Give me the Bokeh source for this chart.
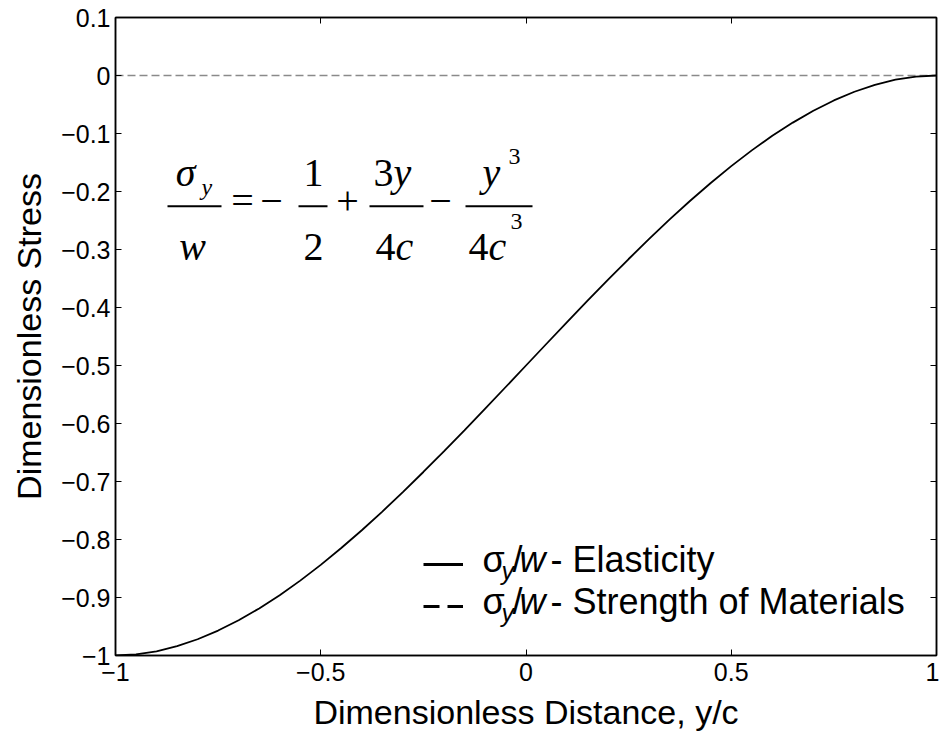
from bokeh.plotting import figure
from bokeh.models import (Range1d, Label, BoxAnnotation, Legend, LegendItem,
                          LinearAxis, FixedTicker)
from bokeh.embed import file_html
from bokeh.resources import INLINE

# ---------------- data ----------------
y_distance = [-1.0, -0.95, -0.9, -0.85, -0.8, -0.75, -0.7, -0.65, -0.6, -0.55,
              -0.5, -0.45, -0.4, -0.35, -0.3, -0.25, -0.2, -0.15, -0.1, -0.05,
              0.0, 0.05, 0.1, 0.15, 0.2, 0.25, 0.3, 0.35, 0.4, 0.45,
              0.5, 0.55, 0.6, 0.65, 0.7, 0.75, 0.8, 0.85, 0.9, 0.95, 1.0]
stress_elasticity = [-1.0, -0.9982, -0.9928, -0.9840, -0.9720, -0.9570, -0.9393,
                     -0.9188, -0.8960, -0.8709, -0.8438, -0.8147, -0.7840, -0.7518,
                     -0.7183, -0.6836, -0.6480, -0.6117, -0.5748, -0.5375, -0.5,
                     -0.4625, -0.4252, -0.3883, -0.3520, -0.3164, -0.2818, -0.2482,
                     -0.2160, -0.1853, -0.1563, -0.1291, -0.1040, -0.0812, -0.0608,
                     -0.0430, -0.0280, -0.0160, -0.0073, -0.0018, 0.0]
som_distance = [-1.0, 1.0]
stress_som = [0.0, 0.0]

x_ticks = [-1, -0.5, 0, 0.5, 1]
x_tick_labels = ["\u22121", "\u22120.5", "0", "0.5", "1"]
y_ticks = [0.1, 0, -0.1, -0.2, -0.3, -0.4, -0.5, -0.6, -0.7, -0.8, -0.9, -1]
y_tick_labels = ["0.1", "0", "\u22120.1", "\u22120.2", "\u22120.3", "\u22120.4",
                 "\u22120.5", "\u22120.6", "\u22120.7", "\u22120.8", "\u22120.9", "\u22121"]

x_label = "Dimensionless Distance, y/c"
y_label = "Dimensionless Stress"

# ---------------- layout ----------------
W, H = 939, 733
L, R, T, B = 115, 936, 17, 656
X0, X1, Y0, Y1 = -1.0, 1.0, -1.0, 0.1

SANS = "Liberation Sans"
SERIF = "Liberation Serif"

p = figure(width=W, height=H, x_range=Range1d(X0, X1), y_range=Range1d(Y0, Y1),
           output_backend="svg", toolbar_location=None,
           min_border_left=L, min_border_right=W - R,
           min_border_top=T, min_border_bottom=H - B)
p.xgrid.visible = False
p.ygrid.visible = False
p.outline_line_color = "black"
p.outline_line_width = 1.5
p.background_fill_color = "white"
p.border_fill_color = "white"

def style_axis(ax, ticks, labels, show_labels=True):
    ax.ticker = FixedTicker(ticks=ticks)
    ax.major_label_overrides = {t: s for t, s in zip(ticks, labels)}
    ax.major_tick_in = 6
    ax.major_tick_out = 0
    ax.minor_tick_in = 0
    ax.minor_tick_out = 0
    ax.major_tick_line_color = "black"
    ax.axis_line_color = "black"
    ax.axis_line_width = 1.5
    if show_labels:
        ax.major_label_text_font = SANS
        ax.major_label_text_font_size = "25px"
        ax.major_label_text_color = "black"
    else:
        ax.major_label_text_font_size = "0px"
        ax.major_label_standoff = 0

xa = p.xaxis[0]
ya = p.yaxis[0]
style_axis(xa, x_ticks, x_tick_labels)
style_axis(ya, y_ticks, y_tick_labels)
xa.major_label_standoff = 7
ya.major_label_standoff = 5
xa.axis_label = x_label
ya.axis_label = y_label
for ax in (xa, ya):
    ax.axis_label_text_font = SANS
    ax.axis_label_text_font_size = "34px"
    ax.axis_label_text_font_style = "normal"
    ax.axis_label_text_color = "black"
xa.axis_label_standoff = 9
ya.axis_label_standoff = 10

top_ax = LinearAxis()
right_ax = LinearAxis()
style_axis(top_ax, x_ticks, ["" for _ in x_ticks], show_labels=False)
style_axis(right_ax, y_ticks, ["" for _ in y_ticks], show_labels=False)
p.add_layout(top_ax, "above")
p.add_layout(right_ax, "right")

# ---------------- data lines ----------------
p.line(som_distance, stress_som, line_color="#8a8a8a", line_width=1.5, line_dash="8 4")
p.line(y_distance, stress_elasticity, line_color="black", line_width=1.8)

# legend (samples only; texts are composed below)
nan = float("nan")
leg_solid = p.line([nan], [nan], line_color="black", line_width=3)
leg_dash = p.line([nan], [nan], line_color="black", line_width=3, line_dash="16 8")
legend = Legend(items=[LegendItem(label="\u00a0", renderers=[leg_solid]),
                       LegendItem(label="\u00a0", renderers=[leg_dash])],
                location=(308, 39), glyph_width=40, glyph_height=20,
                label_height=20, spacing=22, padding=0, margin=0,
                border_line_alpha=0, background_fill_alpha=0,
                label_text_font_size="10px")
p.add_layout(legend, "center")

# helpers: pixel position in the picture -> data coordinates
def dx(px):
    return X0 + (px - L) / (R - L) * (X1 - X0)

def dy(py):
    return Y1 - (py - T) / (B - T) * (Y1 - Y0)

def txt(px, py, s, font=SANS, size=34, style="normal", align="left"):
    # the label anchor sits about 0.39 em above the drawn baseline
    p.add_layout(Label(x=dx(px), y=dy(py - 0.39 * size), text=s, text_font=font,
                       text_font_size=f"{size}px", text_font_style=style,
                       text_align=align, text_baseline="alphabetic",
                       text_color="black"))

def bar(x0, x1, yc):
    p.add_layout(BoxAnnotation(left=dx(x0), right=dx(x1), top=dy(yc - 1),
                               bottom=dy(yc + 1), fill_color="black", fill_alpha=1,
                               line_alpha=0))

# legend texts
LF = 36
for base, rest in ((574, " - Elasticity"), (616, " - Strength of Materials")):
    txt(482, base, "\u03c3", size=LF)
    txt(501, base + 7, "y", size=25, style="italic")
    txt(512, base, "/", size=LF)
    txt(519, base, "w", size=LF, style="italic")
    txt(550, base, rest, size=LF)

# equation  sigma_y / w = -1/2 + 3y/4c - y^3/4c^3
NUM, DEN, AX = 188, 262, 216
txt(185, NUM, "\u03c3", font=SERIF, size=40, style="italic", align="center")
txt(201, NUM + 8, "y", font=SERIF, size=24, style="italic")
bar(167, 221, 206)
txt(192, DEN, "w", font=SERIF, size=40, style="italic", align="center")
txt(242, AX, "=", font=SERIF, size=40, align="center")
txt(271, AX, "\u2212", font=SERIF, size=40, align="center")
txt(313, NUM, "1", font=SERIF, size=40, align="center")
bar(298, 327, 206)
txt(313, DEN, "2", font=SERIF, size=40, align="center")
txt(347, AX, "+", font=SERIF, size=40, align="center")
txt(373, NUM, "3", font=SERIF, size=40)
txt(393, NUM, "y", font=SERIF, size=40, style="italic")
bar(369, 423, 206)
txt(375, DEN, "4", font=SERIF, size=40)
txt(395, DEN, "c", font=SERIF, size=40, style="italic")
txt(440, AX, "\u2212", font=SERIF, size=40, align="center")
txt(482, NUM, "y", font=SERIF, size=40, style="italic")
txt(508, 166, "3", font=SERIF, size=24)
bar(465, 532, 206)
txt(468, DEN, "4", font=SERIF, size=40)
txt(488, DEN, "c", font=SERIF, size=40, style="italic")
txt(510, 231, "3", font=SERIF, size=24)

open("out.html", "w").write(file_html(p, INLINE))
